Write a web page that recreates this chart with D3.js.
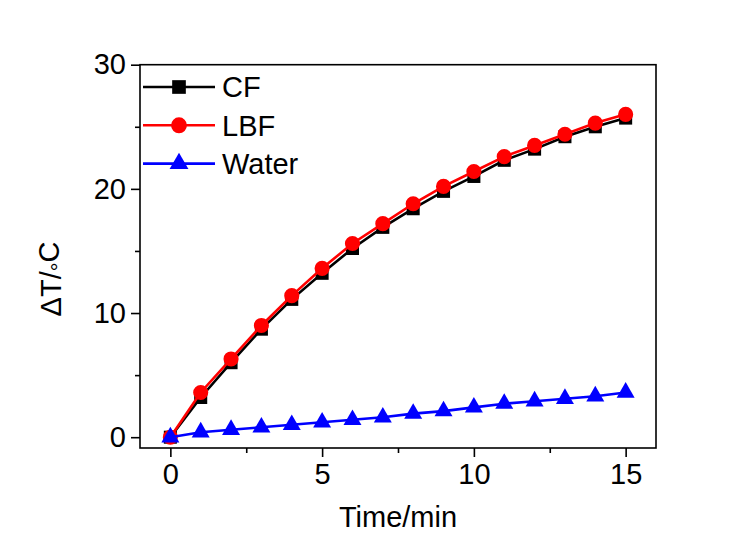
<!DOCTYPE html>
<html>
<head>
<meta charset="utf-8">
<script src="https://cdn.jsdelivr.net/npm/d3@7"></script>
<style>
  body { margin: 0; background: #fff; }
  svg { font-family: "Liberation Sans", Arial, sans-serif; }
</style>
</head>
<body>
<script>
// time in minutes
var times = [0, 1, 2, 3, 4, 5, 6, 7, 8, 9, 10, 11, 12, 13, 14, 15];
var cfValues = [0, 3.2, 6.0, 8.7, 11.1, 13.2, 15.2, 16.9, 18.4, 19.8, 21.0, 22.3, 23.2, 24.2, 25.0, 25.7];
var lbfValues = [0, 3.6, 6.3, 9.0, 11.4, 13.6, 15.6, 17.2, 18.8, 20.2, 21.4, 22.6, 23.5, 24.4, 25.3, 26.0];
var waterValues = [0, 0.4, 0.6, 0.8, 1.0, 1.2, 1.4, 1.6, 1.9, 2.1, 2.4, 2.7, 2.9, 3.1, 3.3, 3.6];
var seriesNames = ['CF', 'LBF', 'Water'];
var xTicks = [0, 5, 10, 15];
var xMinor = [2.5, 7.5, 12.5];
var yTicks = [0, 10, 20, 30];
var yMinor = [5, 15, 25];

var screen = { width: 749, height: 533 };
var margins = { left: 140, right: 749 - 656, top: 64.7, bottom: 533 - 448 };

var series = [
  { name: seriesNames[0], values: cfValues, color: '#000000', symbol: d3.symbolSquare, size: 170 },
  { name: seriesNames[1], values: lbfValues, color: '#ff0000', symbol: d3.symbolCircle, size: 180 },
  { name: seriesNames[2], values: waterValues, color: '#0000ff', symbol: d3.symbolTriangle, size: 140 }
];

var svg = d3.select('body').append('svg')
            .attr('width', screen.width)
            .attr('height', screen.height);

var xScale = d3.scaleLinear()
               .domain([-1, 16])
               .range([margins.left, screen.width - margins.right]);
var yScale = d3.scaleLinear()
               .domain([-0.87, 30])
               .range([screen.height - margins.bottom, margins.top]);

// major + minor ticks
var xAxis = d3.axisBottom(xScale).tickValues(xTicks).tickSize(9).tickPadding(6).tickFormat(d3.format('d'));
var yAxis = d3.axisLeft(yScale).tickValues(yTicks).tickSize(9).tickPadding(5).tickFormat(d3.format('d'));
var xAxisMinor = d3.axisBottom(xScale).tickValues(xMinor).tickSize(5).tickFormat('');
var yAxisMinor = d3.axisLeft(yScale).tickValues(yMinor).tickSize(5).tickFormat('');

var h = screen.height - margins.bottom;

[[xAxis, 'xAxis'], [xAxisMinor, 'xAxisMinor']].forEach(function(a){
  svg.append('g')
     .classed(a[1], true)
     .attr('transform', 'translate(0,' + h + ')')
     .call(a[0]);
});
[[yAxis, 'yAxis'], [yAxisMinor, 'yAxisMinor']].forEach(function(a){
  svg.append('g')
     .classed(a[1], true)
     .attr('transform', 'translate(' + margins.left + ',0)')
     .call(a[0]);
});
svg.selectAll('.domain').remove();
svg.selectAll('.tick line').attr('stroke', '#000').attr('stroke-width', 1.6);
svg.selectAll('.tick text').attr('font-size', 29).attr('fill', '#000')
   .attr('font-family', '"Liberation Sans", Arial, sans-serif');

// frame
svg.append('rect')
   .attr('x', margins.left)
   .attr('y', margins.top)
   .attr('width', screen.width - margins.left - margins.right)
   .attr('height', h - margins.top)
   .attr('fill', 'none')
   .attr('stroke', '#000')
   .attr('stroke-width', 1.6);

var line = d3.line()
             .x(function(d, i){ return xScale(times[i]); })
             .y(function(d){ return yScale(d); });

var groups = svg.selectAll('g.series')
                .data(series)
                .enter()
                .append('g')
                .classed('series', true);

groups.append('path')
      .attr('d', function(d){ return line(d.values); })
      .attr('fill', 'none')
      .attr('stroke', function(d){ return d.color; })
      .attr('stroke-width', 2.6);

groups.selectAll('path.marker')
      .data(function(d){ return d.values.map(function(v, i){ return { t: times[i], v: v, s: d }; }); })
      .enter()
      .append('path')
      .classed('marker', true)
      .attr('transform', function(d){ return 'translate(' + xScale(d.t) + ',' + yScale(d.v) + ')'; })
      .attr('d', function(d){ return d3.symbol().type(d.s.symbol).size(d.s.size)(); })
      .attr('fill', function(d){ return d.s.color; });

// legend
var legend = svg.append('g').classed('legend', true);
var legendlines = legend.selectAll('g')
                        .data(series)
                        .enter()
                        .append('g')
                        .attr('transform', function(d, i){ return 'translate(0,' + (87 + i * 38.3) + ')'; });
legendlines.append('line')
           .attr('x1', 143).attr('x2', 215)
           .attr('stroke', function(d){ return d.color; })
           .attr('stroke-width', 2.6);
legendlines.append('path')
           .attr('transform', 'translate(179,0)')
           .attr('d', function(d){ return d3.symbol().type(d.symbol).size(d.size * 1.1)(); })
           .attr('fill', function(d){ return d.color; });
legendlines.append('text')
           .attr('x', 222)
           .attr('dy', '0.36em')
           .attr('font-size', 29)
           .text(function(d){ return d.name; });

// axis titles
svg.append('text')
   .attr('x', (margins.left + screen.width - margins.right) / 2)
   .attr('y', 527)
   .attr('text-anchor', 'middle')
   .attr('font-size', 29)
   .text('Time/min');

var ylab = svg.append('text')
   .attr('transform', 'translate(61,279) rotate(-90)')
   .attr('text-anchor', 'middle')
   .attr('font-size', 29);
ylab.append('tspan').text('\u0394T/');
ylab.append('tspan').attr('dy', '0.28em').attr('font-size', 22).text('\u00b0');
ylab.append('tspan').attr('dy', '-0.28em').text('C');
</script>
</body>
</html>
